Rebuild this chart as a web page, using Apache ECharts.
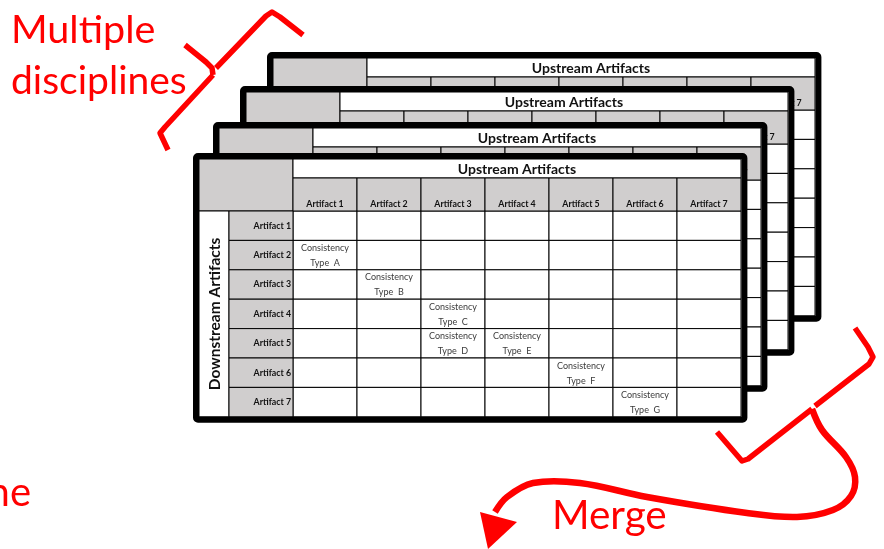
<!DOCTYPE html>
<html><head><meta charset="utf-8">
<script src="https://cdn.jsdelivr.net/npm/echarts@6/dist/echarts.min.js"></script>
<style>html,body{margin:0;padding:0;background:#fff}#c{width:884px;height:549px}</style>
</head><body><div id="c"></div>
<script>
// ---- data ----
const upstreamArtifacts = ['Artifact 1','Artifact 2','Artifact 3','Artifact 4','Artifact 5','Artifact 6','Artifact 7'];
const downstreamArtifacts = ['Artifact 1','Artifact 2','Artifact 3','Artifact 4','Artifact 5','Artifact 6','Artifact 7'];
const consistencyRows = [1, 2, 3, 4, 4, 5, 6];
const consistencyCols = [0, 1, 2, 2, 3, 4, 5];
const consistencyTypes = ['A', 'B', 'C', 'D', 'E', 'F', 'G'];
const upstreamTitle = 'Upstream Artifacts';
const downstreamTitle = 'Downstream Artifacts';
const annotationTop = ['Multiple', 'disciplines'];
const annotationMerge = 'Merge';
const annotationCut = 'ne';

// ---- layout ----
const STACK = [{dx:74,dy:-101},{dx:47,dy:-67},{dx:20,dy:-31},{dx:0,dy:0}];
const GRAY = '#d0cece';
const FONT = 'Lato, "Open Sans", sans-serif';
const HEADER_H = 33, TITLE_H = 19, ROWHEAD_W = 64, DOWN_W = 30;

const cellText = {};
consistencyTypes.forEach((t, i) => {
  cellText[consistencyRows[i] + '-' + consistencyCols[i]] = 'Consistency\nType  ' + t;
});
const cells = [];
downstreamArtifacts.forEach((_, r) => upstreamArtifacts.forEach((_, c) => cells.push([c, r])));

function txt(x, y, text, font, fill, align, valign, z2, extra) {
  return Object.assign({type:'text', x:x, y:y, z2:z2,
    style:{text:text, font:font, fill:fill, align:align, verticalAlign:valign, textAlign:align, textVerticalAlign:valign}}, extra || {});
}
function box(x, y, w, h, fill, z2) {
  return {type:'rect', z2:z2, shape:{x:x, y:y, width:w, height:h}, style:{fill:fill, stroke:'#000', lineWidth:1}};
}

function renderItem(params, api) {
  const c = api.value(0), r = api.value(1);
  const cs = params.coordSys;
  const gl = cs.x, gt = cs.y, gw = cs.width, gh = cs.height;
  const p = api.coord([c, r]);
  const sz = api.size([1, 1]);
  const w = sz[0], h = sz[1];
  const x0 = p[0] - w / 2, y0 = p[1] - h / 2;
  const ch = [];
  ch.push(box(x0, y0, w, h, '#fff', 2));
  const t = cellText[r + '-' + c];
  if (t) ch.push(txt(p[0], p[1] + 0.5, t, '9px ' + FONT, '#3b3b3b', 'center', 'middle', 4, {style:{text:t, font:'9px ' + FONT, fill:'#3b3b3b', align:'center', verticalAlign:'middle', lineHeight:15}}));
  if (r === 0) {
    ch.push(box(x0, gt - HEADER_H, w, HEADER_H, GRAY, 2));
    ch.push(txt(p[0], gt - 2, upstreamArtifacts[c], 'bold 8.8px ' + FONT, '#111', 'center', 'bottom', 4));
  }
  if (c === 0) {
    ch.push(box(x0 - ROWHEAD_W, y0, ROWHEAD_W, h, GRAY, 2));
    ch.push(txt(x0 - 2, p[1], downstreamArtifacts[r], 'bold 8.8px ' + FONT, '#111', 'right', 'middle', 4));
  }
  if (params.dataIndex === 0) {
    const L = gl - 97, R = gl + gw + 3.4, T = gt - 55, B = gt + gh + 2.9;
    ch.push({type:'rect', z2:0, shape:{x:L, y:T, width:R - L, height:B - T}, style:{fill:'#fff'}});
    ch.push(box(gl - ROWHEAD_W - DOWN_W, gt - HEADER_H - TITLE_H, ROWHEAD_W + DOWN_W, HEADER_H + TITLE_H, GRAY, 1));
    ch.push(box(gl, gt - HEADER_H - TITLE_H, gw, TITLE_H, '#fff', 1));
    ch.push(txt(gl + gw / 2, gt - HEADER_H - TITLE_H / 2 + 0.5, upstreamTitle, 'bold 14px ' + FONT, '#111', 'center', 'middle', 4));
    ch.push(box(gl - ROWHEAD_W - DOWN_W, gt, DOWN_W, gh, '#fff', 1));
    ch.push(txt(gl - ROWHEAD_W - DOWN_W / 2 + 1, gt + gh / 2, downstreamTitle, 'bold 15.5px ' + FONT, '#111', 'center', 'middle', 4, {rotation: Math.PI / 2}));
    ch.push({type:'rect', z2:10, shape:{x:L, y:T, width:R - L, height:B - T, r:2}, style:{fill:null, stroke:'#000', lineWidth:6}});
  }
  return {type:'group', children:ch};
}

const RED = '#ff0000';
const redLine = (pts, lw, smooth) => ({type:'polyline', z:50, shape:{points:pts, smooth:smooth || 0}, style:{stroke:RED, lineWidth:lw, fill:null, lineJoin:'round', lineCap:'butt'}});

const option = {
  animation: false,
  grid: STACK.map(s => ({left: 293 + s.dx, top: 211 + s.dy, width: 448, height: 205.8})),
  xAxis: STACK.map((s, i) => ({type:'category', gridIndex:i, data:upstreamArtifacts, show:false})),
  yAxis: STACK.map((s, i) => ({type:'category', gridIndex:i, data:downstreamArtifacts, inverse:true, show:false})),
  series: STACK.map((s, i) => ({type:'custom', xAxisIndex:i, yAxisIndex:i, z:2 + i, clip:false, silent:true, renderItem:renderItem, data:cells})),
  graphic: [
    {type:'text', z:50, x:11, y:10, style:{text:annotationTop[0], font:'39.5px ' + FONT, fill:RED}},
    {type:'text', z:50, x:11, y:62, style:{text:annotationTop[1], font:'39px ' + FONT, fill:RED}},
    {type:'text', z:50, x:552, y:495, style:{text:annotationMerge, font:'40.5px ' + FONT, fill:RED}},
    {type:'text', z:50, x:31, y:473, style:{text:annotationCut, font:'40px ' + FONT, fill:RED, align:'right', textAlign:'right'}},
    redLine([[303,35],[280,17],[272,12],[266,16],[216,68]], 5.5),
    redLine([[185,45],[206,62],[212,68],[213,75]], 5.5),
    redLine([[213,75],[165,127],[160,133],[168,150]], 5.5),
    redLine([[855,328],[868,347],[873,357],[869,364],[815,406]], 5.5),
    redLine([[812,409],[748,459],[742,461],[717,432]], 5.5),
    redLine([[812,409],[822,430],[846,457],[855,477],[851,496],[833,510],[797,517],[747,513],[647,497],[580,483],[533,483],[507,497],[495,512]], 6.5, 0.35),
    {type:'polygon', z:50, shape:{points:[[480,512],[517,522],[488,549]]}, style:{fill:RED}}
  ]
};
const chart = echarts.init(document.getElementById('c'), null, {renderer:'canvas'});
chart.setOption(option);
</script>
</body></html>
